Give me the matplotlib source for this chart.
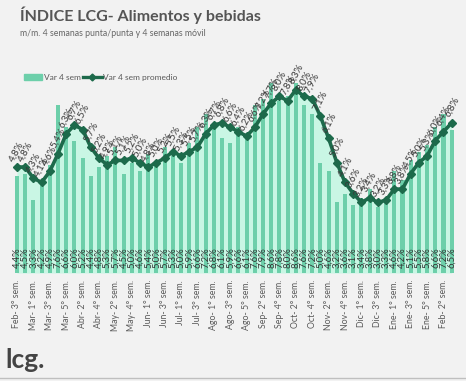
import numpy as np
import matplotlib
matplotlib.use("Agg")
import matplotlib.pyplot as plt
from matplotlib.lines import Line2D
from matplotlib.patches import Patch

plt.rcParams['font.family'] = ['Lato', 'DejaVu Sans']

# semanas (Feb-3 a Feb-3 del año siguiente)
semanas = ['Feb- 3° sem.', 'Feb- 4° sem.',
           'Mar- 1° sem.', 'Mar- 2° sem.', 'Mar- 3° sem.', 'Mar- 4° sem.', 'Mar- 5° sem.',
           'Abr- 1° sem.', 'Abr- 2° sem.', 'Abr- 3° sem.', 'Abr- 4° sem.',
           'May- 1° sem.', 'May- 2° sem.', 'May- 3° sem.', 'May- 4° sem.', 'May- 5° sem.',
           'Jun- 1° sem.', 'Jun- 2° sem.', 'Jun- 3° sem.', 'Jun- 4° sem.',
           'Jul- 1° sem.', 'Jul- 2° sem.', 'Jul- 3° sem.', 'Jul- 4° sem.',
           'Ago- 1° sem.', 'Ago- 2° sem.', 'Ago- 3° sem.', 'Ago- 4° sem.', 'Ago- 5° sem.',
           'Sep- 1° sem.', 'Sep- 2° sem.', 'Sep- 3° sem.', 'Sep- 4° sem.',
           'Oct- 1° sem.', 'Oct- 2° sem.', 'Oct- 3° sem.', 'Oct- 4° sem.',
           'Nov- 1° sem.', 'Nov- 2° sem.', 'Nov- 3° sem.', 'Nov- 4° sem.', 'Nov- 5° sem.',
           'Dic- 1° sem.', 'Dic- 2° sem.', 'Dic- 3° sem.', 'Dic- 4° sem.',
           'Ene- 1° sem.', 'Ene- 2° sem.', 'Ene- 3° sem.', 'Ene- 4° sem.', 'Ene- 5° sem.',
           'Feb- 1° sem.', 'Feb- 2° sem.', 'Feb- 3° sem.']

# Var 4 sem (barras), en %
var4 = [4.4, 4.5, 3.3, 4.2, 4.9, 7.6, 6.6, 6.0, 5.2, 4.4,
        4.8, 5.3, 5.7, 4.5, 5.0, 4.6, 5.4, 5.0, 5.7, 5.3,
        5.0, 5.9, 6.6, 7.2, 6.8, 6.1, 5.9, 6.6, 6.1, 7.6,
        7.9, 8.6, 7.8, 8.0, 8.6, 7.6, 7.2, 5.0, 4.6, 3.2,
        3.6, 3.1, 3.4, 3.8, 3.0, 3.3, 4.6, 4.2, 5.1, 5.5,
        5.8, 6.6, 7.2, 6.5]

# Var 4 sem promedio (linea), en %
prom = [4.8, 4.8, 4.3, 4.1, 4.6, 5.4, 6.3, 6.7, 6.5, 5.7,
        5.2, 4.9, 5.1, 5.1, 5.2, 5.0, 4.8, 5.0, 5.2, 5.5,
        5.3, 5.5, 5.7, 6.3, 6.7, 6.8, 6.6, 6.4, 6.2, 6.6,
        7.2, 7.7, 8.0, 7.8, 8.3, 8.0, 7.9, 7.1, 6.1, 5.0,
        4.1, 3.6, 3.2, 3.4, 3.2, 3.3, 3.8, 3.8, 4.5, 5.0,
        5.3, 6.0, 6.4, 6.8]

bg = '#f2f2f2'
verde = '#6dcfaa'
menta = '#c9f6e4'
oscuro = '#1d6a4b'
gris = '#595959'


def pct(v):
    return f'{v:.1f}%'.replace('.', ',')


fig = plt.figure(figsize=(4.66, 3.81), dpi=100, facecolor=bg)
ax = fig.add_axes([0.0258, 0.2835, 0.954, 0.533])
ax.set_facecolor(bg)

x = np.arange(len(semanas))
ax.fill_between(x, prom, 0, color=menta, lw=0, zorder=1)
ax.bar(x, var4, width=0.5, color=verde, zorder=2)
ax.plot(x, prom, color=oscuro, lw=2.6, marker='D', ms=4.5, zorder=3)

for i, v in enumerate(var4):
    ax.text(i, 0.22, pct(v), rotation=90, ha='center', va='bottom',
            fontsize=6.8, color='#333333', zorder=4)
for i, v in enumerate(prom):
    ax.annotate(pct(v), (i, v), xytext=(0, 3), textcoords='offset points',
                rotation=62, ha='center', va='bottom', fontsize=7,
                color='#383838', zorder=4)

ax.set_xlim(-0.6, len(semanas) - 0.4)
ax.set_ylim(0, 9.2)
ax.set_yticks([])
ax.set_xticks(x[::2])
ax.set_xticklabels(semanas[::2], rotation=90, fontsize=6.3, color=gris)
ax.tick_params(axis='x', length=0, pad=5)
for s in ax.spines.values():
    s.set_visible(False)

handles = [Patch(color=verde),
           Line2D([], [], color=oscuro, lw=2.4, marker='D', ms=3.5)]
fig.legend(handles, ['Var 4 sem', 'Var 4 sem promedio'], loc='center left',
           bbox_to_anchor=(0.035, 0.797), ncol=2, frameon=False, fontsize=6,
           labelcolor=gris, handlelength=2.2, handletextpad=0.2,
           columnspacing=0.3)

fig.text(0.043, 0.945, 'ÍNDICE LCG- Alimentos y bebidas', fontsize=11.5,
         fontweight='bold', color='#555555', va='baseline')
fig.text(0.043, 0.905, 'm/m. 4 semanas punta/punta y 4 semanas móvil',
         fontsize=6.3, color='#666666', va='baseline')
fig.text(0.012, 0.035, 'lcg.', fontsize=19, fontweight='bold',
         color='#444444', va='baseline')
fig.add_artist(Line2D([0, 1], [0.008, 0.008], color='#bfbfbf', lw=1))

fig.savefig('out.png', dpi=100, facecolor=bg)
